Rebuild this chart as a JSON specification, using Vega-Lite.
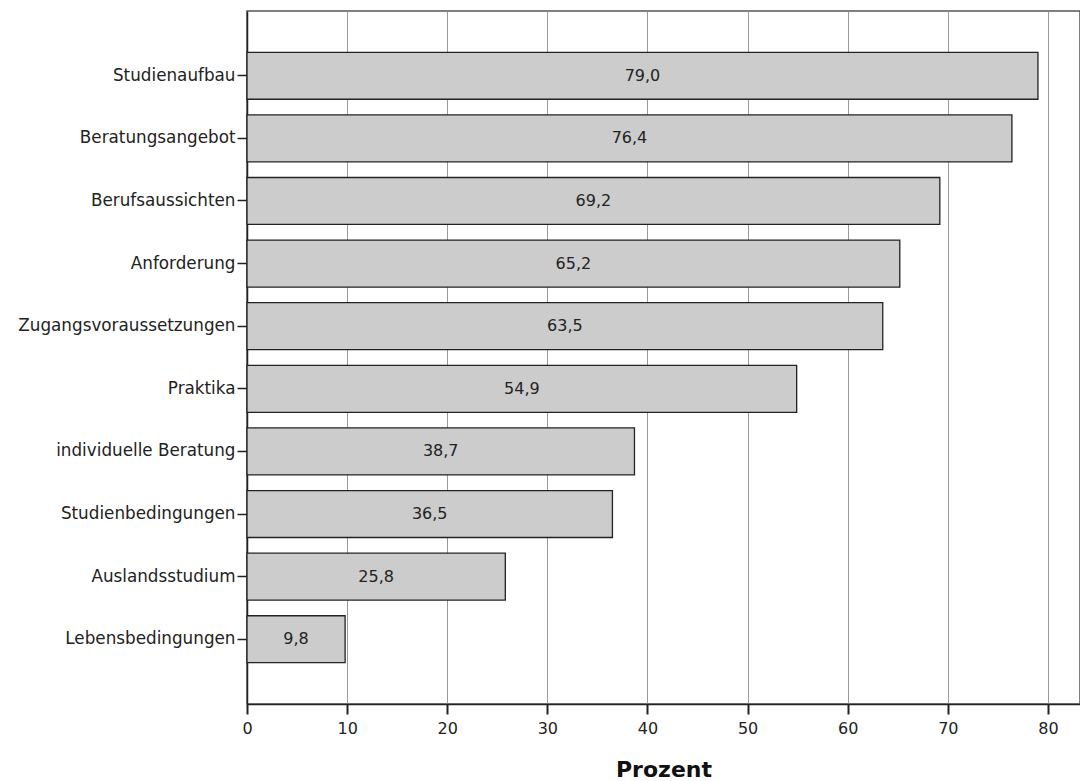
{
  "$schema": "https://vega.github.io/schema/vega-lite/v6.json",
  "autosize": {"type": "none"},
  "padding": {"left": 247, "top": 11, "right": 0, "bottom": 77},
  "width": 833,
  "height": 693,
  "background": "white",
  "config": {
    "font": "DejaVu Sans",
    "view": {"stroke": "#555", "strokeWidth": 1.5},
    "locale": {"number": {"decimal": ",", "thousands": ".", "grouping": [3], "currency": ["", " €"]}}
  },
  "data": {
    "values": [
      {"Kategorie": "Studienaufbau", "Prozent": 79.0},
      {"Kategorie": "Beratungsangebot", "Prozent": 76.4},
      {"Kategorie": "Berufsaussichten", "Prozent": 69.2},
      {"Kategorie": "Anforderung", "Prozent": 65.2},
      {"Kategorie": "Zugangsvoraussetzungen", "Prozent": 63.5},
      {"Kategorie": "Praktika", "Prozent": 54.9},
      {"Kategorie": "individuelle Beratung", "Prozent": 38.7},
      {"Kategorie": "Studienbedingungen", "Prozent": 36.5},
      {"Kategorie": "Auslandsstudium", "Prozent": 25.8},
      {"Kategorie": "Lebensbedingungen", "Prozent": 9.8}
    ]
  },
  "encoding": {
    "y": {
      "field": "Kategorie", "type": "nominal", "sort": null,
      "scale": {"paddingInner": 0.25, "paddingOuter": 0.66},
      "axis": {"title": null, "domainColor": "#222", "domainWidth": 1.5, "tickColor": "#222", "tickWidth": 1.5, "tickSize": 10, "labelPadding": 2, "labelFontSize": 16.8, "labelLimit": 400, "labelColor": "#222", "labelFont": "DejaVu Sans", "grid": false}
    }
  },
  "layer": [
    {
      "mark": {"type": "bar", "fill": "#cccccc", "stroke": "#222", "strokeWidth": 1.3},
      "encoding": {
        "x": {
          "field": "Prozent", "type": "quantitative",
          "scale": {"domain": [0, 83.2], "nice": false, "zero": true},
          "axis": {"title": "Prozent", "titleFontSize": 22, "titleFontWeight": "bold", "titleColor": "#111", "titlePadding": 23, "titleFont": "DejaVu Sans",
            "values": [0, 10, 20, 30, 40, 50, 60, 70, 80], "format": "d", "labelFlush": false,
            "grid": true, "gridColor": "#999", "gridWidth": 1,
            "domainColor": "#222", "domainWidth": 1.5, "tickColor": "#222", "tickWidth": 2, "tickSize": 10, "labelPadding": 6,
            "labelFontSize": 16, "labelColor": "#222", "labelFont": "DejaVu Sans"}
        }
      }
    },
    {
      "mark": {"type": "text", "fontSize": 16, "color": "#222", "font": "DejaVu Sans", "baseline": "middle", "align": "center"},
      "encoding": {
        "x": {"field": "Prozent", "type": "quantitative", "scale": {"domain": [0, 166.4], "nice": false, "zero": true}, "axis": null},
        "text": {"field": "Prozent", "type": "quantitative", "format": ".1f"}
      }
    }
  ],
  "resolve": {"scale": {"x": "independent"}, "axis": {"x": "independent"}}
}
